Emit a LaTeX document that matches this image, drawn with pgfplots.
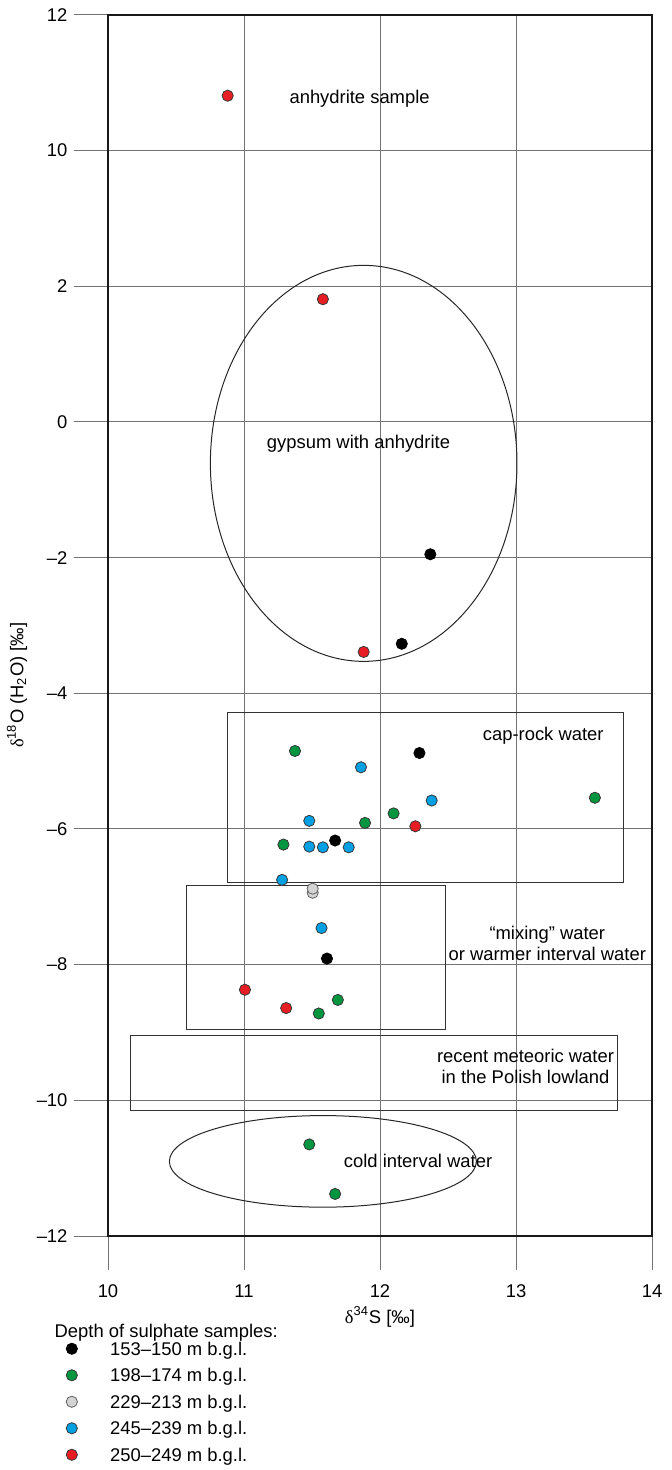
\documentclass[border=0pt]{standalone}
\usepackage{pgfplots}
\pgfplotsset{compat=1.18}
\usepackage{fontspec}
\setmainfont{Liberation Sans}
\newfontfamily\seriff{Liberation Serif}
\newcommand\fs{\fontsize{9.2}{10.5}\selectfont}
\definecolor{cgreen}{RGB}{0,150,64}
\definecolor{cblue}{RGB}{0,160,227}
\definecolor{cred}{RGB}{230,30,36}
\definecolor{cgray}{RGB}{212,212,212}
\definecolor{outl}{RGB}{55,55,55}
\pgfplotsset{
  samp/.style={only marks, mark=*, mark size=2.8pt, line width=0.4pt,
    legend image code/.code={\path (-3pt,-3pt) (19pt,3pt);
      \draw[##1] plot coordinates {(0pt,0pt)};}},
}
\begin{document}
\fs
\begin{tikzpicture}[font=\fs]
\useasboundingbox (-54pt,-117pt) rectangle (282pt,618pt);
\begin{axis}[
  at={(0pt,0pt)}, anchor=south west,
  scale only axis, width=272pt, height=610.5pt,
  xmin=10, xmax=14, ymin=-12, ymax=6,
  xtick={10,11,12,13,14}, xticklabels={10,11,12,13,14},
  ytick={-12,-10,-8,-6,-4,-2,0,2,4,6},
  yticklabels={–12,–10,–8,–6,–4,–2,0,2,10,12},
  tick pos=left, tick align=outside, major tick length=17pt,
  tick style={black!55, line width=0.5pt},
  grid=major, major grid style={black!55, line width=0.5pt},
  axis line style={line width=1.4pt, black!90},
  ticklabel style={font=\fs},
  xticklabel style={yshift=-4pt},
  clip=false,
  xlabel={{\seriff δ}\textsuperscript{34}S [‰]},
  xlabel style={at={(axis description cs:0.5,-0.0663)}, anchor=center, font=\fs},
  ylabel={{\seriff δ}\textsuperscript{18}O (H\textsubscript{2}O) [‰]},
  ylabel style={at={(axis description cs:-0.1673,0.451)}, anchor=center, font=\fs},
  legend style={at={(-0.0790,-0.0867)}, anchor=north west, draw=none, fill=none,
    inner xsep=0pt, inner ysep=0pt, row sep=6.75pt,
    nodes={inner sep=0pt, text height=6.5pt, text depth=0pt, font=\fs},
    cells={anchor=west}},
]
% zones
\draw[black!85, line width=0.5pt] (axis cs:11.88,-0.61) ellipse [x radius=76.65pt, y radius=99pt];
\draw[black!85, line width=0.5pt] (axis cs:11.58,-10.90) ellipse [x radius=76.75pt, y radius=22.9pt];
\draw[black!80, line width=0.5pt] (axis cs:10.877,-4.29) rectangle (axis cs:13.79,-6.79);
\draw[black!80, line width=0.5pt] (axis cs:10.576,-6.83) rectangle (axis cs:12.48,-8.95);
\draw[black!80, line width=0.5pt] (axis cs:10.167,-9.05) rectangle (axis cs:13.744,-10.15);

% 153-150 m
\addplot[samp, draw=black, fill=black] coordinates {
 (12.37,-1.95) (12.16,-3.27) (12.29,-4.88) (11.67,-6.17) (11.61,-7.91)};
\addlegendentry{153–150 m b.g.l.}
% 198-174 m
\addplot[samp, draw=outl, fill=cgreen] coordinates {
 (11.375,-4.85) (13.58,-5.54) (12.10,-5.77) (11.89,-5.91) (11.29,-6.23)
 (11.69,-8.52) (11.55,-8.72) (11.48,-10.65) (11.67,-11.38)};
\addlegendentry{198–174 m b.g.l.}
% 229-213 m
\addplot[samp, draw=outl!80, fill=cgray] coordinates {
 (11.505,-6.94) (11.505,-6.88)};
\addlegendentry{229–213 m b.g.l.}
% 245-239 m
\addplot[samp, draw=outl, fill=cblue] coordinates {
 (11.86,-5.09) (12.38,-5.58) (11.48,-5.88) (11.48,-6.26) (11.58,-6.27)
 (11.77,-6.27) (11.28,-6.75) (11.57,-7.46)};
\addlegendentry{245–239 m b.g.l.}
% 250-249 m  (first point: 10.81 on the upper, broken part of the axis -> 4.81)
\addplot[samp, draw=outl, fill=cred] coordinates {
 (10.88,4.81) (11.58,1.81) (11.88,-3.39) (12.26,-5.96) (11.007,-8.37) (11.31,-8.64)};
\addlegendentry{250–249 m b.g.l.}

% labels
\node at (axis cs:11.85,4.77) {anhydrite sample};
\node at (axis cs:11.842,-0.32) {gypsum with anhydrite};
\node at (axis cs:13.20,-4.62) {cap-rock water};
\node[align=center] at (axis cs:13.23,-7.68) {“mixing” water\\or warmer interval water};
\node[align=center] at (axis cs:13.07,-9.50) {recent meteoric water\\in the Polish lowland};
\node at (axis cs:12.28,-10.90) {cold interval water};
\end{axis}
\node[anchor=west, inner sep=0pt] at (-26.85pt,-48.5pt) {Depth of sulphate samples:};
\end{tikzpicture}
\end{document}
